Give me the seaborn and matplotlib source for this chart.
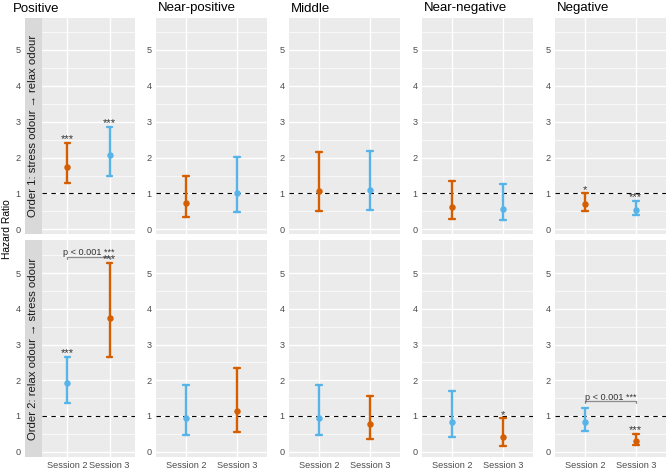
import numpy as np
import pandas as pd
import matplotlib.pyplot as plt
import seaborn as sns
from matplotlib.ticker import MultipleLocator

categories = ["Positive", "Near-positive", "Middle", "Near-negative", "Negative"]
sessions = ["Session 2", "Session 3"]
orders = ["Order 1: stress odour \u2192 relax odour",
          "Order 2: relax odour \u2192 stress odour"]
odours = ["stress odour", "relax odour"]

# order 1: session 2 = stress odour, session 3 = relax odour
o1_s2_est = [1.74, 0.74, 1.06, 0.62, 0.71]
o1_s2_lo = [1.28, 0.35, 0.52, 0.29, 0.50]
o1_s2_hi = [2.40, 1.49, 2.15, 1.34, 1.00]
o1_s3_est = [2.07, 1.00, 1.09, 0.57, 0.55]
o1_s3_lo = [1.48, 0.49, 0.55, 0.25, 0.39]
o1_s3_hi = [2.86, 2.02, 2.19, 1.26, 0.79]

# order 2: session 2 = relax odour, session 3 = stress odour
o2_s2_est = [1.92, 0.93, 0.94, 0.82, 0.83]
o2_s2_lo = [1.37, 0.46, 0.48, 0.40, 0.57]
o2_s2_hi = [2.66, 1.86, 1.88, 1.70, 1.23]
o2_s3_est = [3.74, 1.13, 0.77, 0.42, 0.31]
o2_s3_lo = [2.64, 0.54, 0.36, 0.17, 0.18]
o2_s3_hi = [5.28, 2.35, 1.57, 0.93, 0.50]

# significance vs HR = 1
o1_s2_sig = ["***", "", "", "", "*"]
o1_s3_sig = ["***", "", "", "", "***"]
o2_s2_sig = ["***", "", "", "", ""]
o2_s3_sig = ["***", "", "", "*", "***"]
# session 2 vs session 3 comparison
o1_compare = ["", "", "", "", ""]
o2_compare = ["p < 0.001 ***", "", "", "", "p < 0.001 ***"]

palette = {"stress odour": "#D55E00", "relax odour": "#56B4E9"}

table = {
    0: [(o1_s2_lo, o1_s2_est, o1_s2_hi, o1_s2_sig, "stress odour"),
        (o1_s3_lo, o1_s3_est, o1_s3_hi, o1_s3_sig, "relax odour")],
    1: [(o2_s2_lo, o2_s2_est, o2_s2_hi, o2_s2_sig, "relax odour"),
        (o2_s3_lo, o2_s3_est, o2_s3_hi, o2_s3_sig, "stress odour")],
}
compare = {0: o1_compare, 1: o2_compare}

rows = []
for oi, order in enumerate(orders):
    for ci, cat in enumerate(categories):
        for si, sess in enumerate(sessions):
            lo, est, hi, sig, odour = table[oi][si]
            for v in (lo[ci], est[ci], hi[ci]):
                rows.append({"order": order, "category": cat, "session": sess,
                             "odour": odour, "hr": v})
df = pd.DataFrame(rows)

sns.set_theme(style="darkgrid", rc={
    "axes.facecolor": "#EBEBEB",
    "grid.color": "white",
    "figure.facecolor": "white",
})
plt.rcParams["font.family"] = ["Liberation Sans", "DejaVu Sans"]

W, H = 668, 471
fig = plt.figure(figsize=(W / 100, H / 100), dpi=100)


def px(left, top, width, height):
    return [left / W, 1 - (top + height) / H, width / W, height / H]


col_left = [42, 156, 289, 422, 555]
col_width = [93, 111, 111, 111, 111]
row_top = [18, 240]
row_height = [216, 217]
row_ylim = [(-0.13, 5.89), (-0.15, 5.93)]
tick_col = "#4D4D4D"
lab_size = 6.6

for oi, order in enumerate(orders):
    for ci, cat in enumerate(categories):
        ax = fig.add_axes(px(col_left[ci], row_top[oi], col_width[ci], row_height[oi]))
        sub = df[(df["order"] == order) & (df["category"] == cat)]
        ax.axhline(1, color="black", lw=0.8, ls=(0, (4, 4)), zorder=1)
        sns.pointplot(data=sub, x="session", y="hr", hue="odour",
                      order=sessions, hue_order=odours, palette=palette,
                      estimator="median", errorbar=("pi", 100),
                      capsize=0.12, linestyle="none", markers="o",
                      markersize=2.6, err_kws={"linewidth": 1.7},
                      dodge=False, legend=False, ax=ax)
        ax.set_xlim(-0.6, 1.6)
        ax.set_ylim(*row_ylim[oi])
        ax.set_xlabel("")
        ax.set_ylabel("")
        ax.set_yticks(range(6))
        ax.yaxis.set_minor_locator(MultipleLocator(0.5))
        ax.grid(True, which="major", color="white", lw=1.0)
        ax.grid(True, which="minor", axis="y", color="white", lw=0.5)
        ax.xaxis.grid(True)
        for s in ax.spines.values():
            s.set_visible(False)
        ax.tick_params(which="minor", length=0)
        ax.tick_params(axis="both", which="major", labelsize=lab_size,
                       labelcolor=tick_col, color="#333333",
                       length=2.2, width=0.7, pad=1.0)
        if oi == 0:
            ax.tick_params(axis="x", length=0, labelbottom=False)
        if ci == 0:
            ax.tick_params(axis="y", length=0, labelleft=False)

        # significance stars above the upper limit
        for si in range(2):
            lo, est, hi, sig, odour = table[oi][si]
            if sig[ci]:
                ax.text(si, hi[ci] + 0.02, sig[ci], ha="center", va="baseline",
                        size=8, color="#333333")
        if compare[oi][ci]:
            y = max(table[oi][0][2][ci], table[oi][1][2][ci]) + 0.18
            ax.plot([0, 0, 1, 1], [y - 0.06, y, y, y - 0.06],
                    color="#8C8C8C", lw=0.9)
            ax.text(0.5, y + 0.04, compare[oi][ci], ha="center", va="baseline",
                    size=6.6, color="#333333")

    # row strip on the first column, carrying the y axis
    sax = fig.add_axes(px(25, row_top[oi], 17, row_height[oi]))
    sax.set_facecolor("#D9D9D9")
    sax.set_ylim(*row_ylim[oi])
    sax.set_xlim(0, 1)
    sax.set_yticks(range(6))
    sax.set_xticks([])
    sax.grid(False)
    for s in sax.spines.values():
        s.set_visible(False)
    sax.tick_params(axis="y", labelsize=lab_size, labelcolor=tick_col,
                    color="#333333", length=2.2, width=0.7, pad=1.0)
    sax.text(0.5, 0.5, order, transform=sax.transAxes, rotation=90,
             ha="center", va="center", size=8.2, color="#1A1A1A")

for ci, cat in enumerate(categories):
    x = 13 if ci == 0 else col_left[ci] + 2
    fig.text(x / W, 1 - 8.5 / H, cat, ha="left", va="center", size=9.5, color="black")

fig.text(7.5 / W, 1 - 229 / H, "Hazard Ratio", rotation=90, ha="center",
         va="center", size=7.4, color="black")

fig.savefig("out.png", dpi=100)
